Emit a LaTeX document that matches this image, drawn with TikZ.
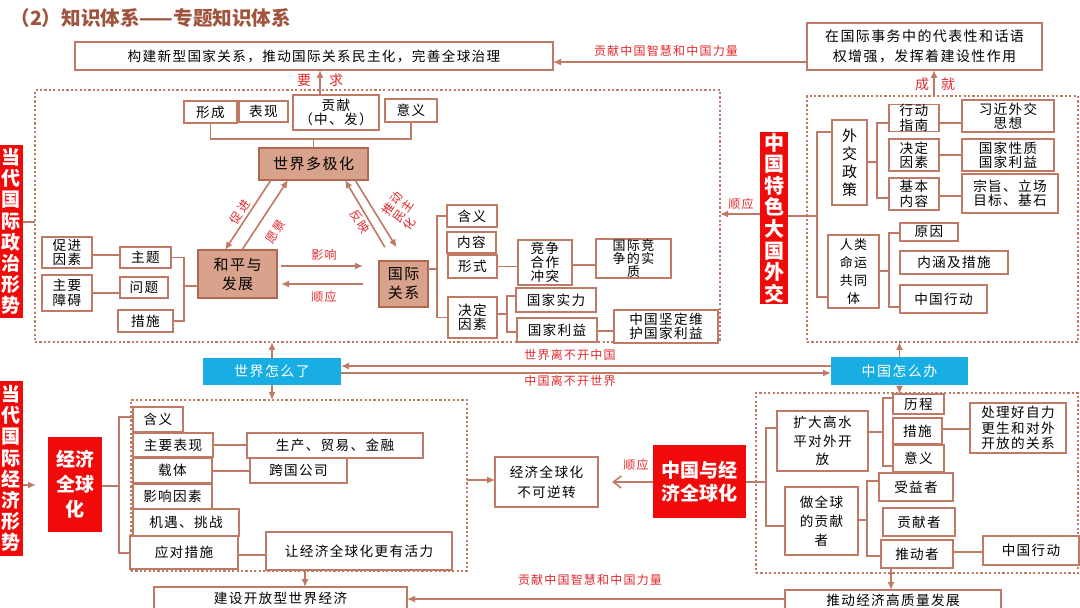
\documentclass[tikz,border=0pt]{standalone}
\usepackage{fontspec}
\usetikzlibrary{arrows.meta,fit}
\newfontfamily\cjk[LetterSpace=10]{Noto Sans CJK SC}
\newfontfamily\cjkb{Noto Sans CJK SC}
\definecolor{lnC}{RGB}{190,122,100}
\definecolor{hubF}{RGB}{216,162,140}
\definecolor{hubD}{RGB}{176,104,80}
\definecolor{redC}{RGB}{240,10,10}
\definecolor{cyC}{RGB}{24,174,228}
\definecolor{labC}{RGB}{226,40,44}
\definecolor{ttlC}{RGB}{160,84,62}
\tikzset{
  span/.style n args={4}{at={({(#1+#3)/2},{(#2+#4)/2})},
              minimum width={(#3-#1)*0.5pt},minimum height={(#4-#2)*0.5pt}},
  box/.style={rectangle,draw=lnC,line width=0.8pt,fill=white,inner sep=0pt,outer sep=0pt,
              align=center,font=\cjk\fontsize{6.8}{8.2}\selectfont},
  tight/.style={font=\cjk\fontsize{6.8}{7.2}\selectfont},
  hub/.style={box,fill=hubF,draw=hubD,font=\cjk\fontsize{7.5}{9.5}\selectfont},
  redbx/.style={box,draw=none,fill=redC,text=white,font=\cjkb\bfseries\fontsize{9.5}{10.6}\selectfont},
  cybx/.style={box,draw=none,fill=cyC,text=white,font=\cjk\fontsize{7}{8}\selectfont},
  zone/.style={rectangle,draw=lnC,line width=1.1pt,dash pattern=on 1.1pt off 1.1pt,
               inner sep=0pt,outer sep=0pt},
  ln/.style={draw=lnC,line width=0.8pt},
  arr/.style={ln,-{Latex[length=4pt,width=3.6pt]}},
  lbl/.style={text=labC,font=\cjk\fontsize{6}{7}\selectfont,inner sep=0pt,align=left},
  lblb/.style={lbl,font=\cjk\fontsize{7}{8}\selectfont},
}
\begin{document}
\begin{tikzpicture}[x=0.5pt,y=-0.5pt]
\useasboundingbox (0,0) rectangle (1080,608);
\clip (0,0) rectangle (1080,608);
\node[anchor=west,text=ttlC,font=\cjkb\bfseries\fontsize{9.8}{11}\selectfont,inner sep=0pt] (ttl) at (10,18) {（2）知识体系——专题知识体系};
% zones
\node[zone,fit={(35,90)(720,342)}] (zz) {};
\node[zone,fit={(807,96)(1078,342)}] (zr) {};
\node[zone,fit={(131,400)(467,571)}] (zl) {};
\node[zone,fit={(756,393)(1078,573)}] (zrl) {};

% top row
\node[box,span={75}{42}{553}{70}] (goal) {构建新型国家关系，推动国际关系民主化，完善全球治理};
\node[box,span={807}{23}{1042}{70},font=\cjk\fontsize{7}{10}\selectfont] (ach) {在国际事务中的代表性和话语\\权增强，发挥着建设性作用};
\draw[arr] (ach.west |- 0,62) -- (goal.east |- 0,62);
\node[lbl] (lgx) at (666,51) {贡献中国智慧和中国力量};
\draw[arr] (zr.north -| 934,0) -- (ach.south -| 934,0);
\node[lblb] (lcj1) at (922,84) {成};
\node[lblb] (lcj2) at (948,84) {就};

% world politics
\node[redbx,span={0}{145}{23}{318}] (zzred) {当\\代\\国\\际\\政\\治\\形\\势};
\draw[ln] (zzred.east |- 0,222) -- (zz.west |- 0,222);
\node[box,span={184}{101}{237}{123}] (xc) {形成};
\node[box,span={239}{101}{288}{122}] (bx) {表现};
\node[box,span={293}{95}{379}{130},tight] (gx) {贡献\\（中、发）};
\node[box,span={385}{99}{437}{122}] (yy) {意义};
\draw[arr] (gx.north -| 320,0) -- (goal.south -| 320,0);
\node[lblb] (lyq1) at (304,80) {要};
\node[lblb] (lyq2) at (336,80) {求};
\draw[ln] (xc.south) -- (xc.south |- 0,139) -- (yy.south |- 0,139) -- (yy.south);
\node[hub,span={259}{148}{368}{180}] (dj) {世界多极化};
\draw[ln] (dj.north) -- (dj.north |- 0,139);
\node[hub,span={198}{250}{277}{298}] (hp) {和平与\\发展};
\node[hub,span={379}{261}{428}{307}] (gj) {国际\\关系};
\draw[arr] (dj.south -| 271,0) -- (hp.north -| 225,0);
\draw[arr] (hp.north -| 242,0) -- (dj.south -| 288,0);
\draw[arr,shorten <=8pt] (gj.north -| 393,0) -- (dj.south -| 345,0);
\draw[arr,shorten >=8pt] (dj.south -| 355,0) -- (gj.north -| 405,0);
\node[lbl,rotate=57] (lcj) at (240,212) {促进};
\node[lbl,rotate=57] (lyj) at (276,232) {愿景};
\node[lbl,rotate=-57] (lfy) at (360,222) {反映};
\node[lbl,rotate=54,font=\cjk\fontsize{6}{6.4}\selectfont] (ltd) at (403,211) {推动\\民主\\化};
\draw[arr,shorten <=2pt,shorten >=8pt] (hp.east |- 0,266) -- (gj.west |- 0,266);
\draw[arr,shorten <=8pt,shorten >=2pt] (gj.west |- 0,284) -- (hp.east |- 0,284);
\node[lbl] (lyx) at (324,255) {影响};
\node[lbl] (lsy) at (324,297) {顺应};

\node[box,span={42}{237}{92}{268},tight] (cj) {促进\\因素};
\node[box,span={42}{275}{92}{311},tight] (za) {主要\\障碍};
\node[box,span={120}{247}{171}{268}] (zt) {主题};
\node[box,span={120}{277}{168}{298}] (wt) {问题};
\node[box,span={118}{310}{173}{332}] (cs) {措施};
\draw[ln] (cj.east |- 0,255) -- (zt.west |- 0,255);
\draw[ln] (za.east |- 0,293) -- (wt.west |- 0,293);
\coordinate (bkL) at (184,286);
\draw[ln] (zt.east) -| (bkL) |- (cs.east);
\draw[ln] (bkL) -- (hp.west |- bkL);

\node[box,span={447}{205}{497}{227}] (hy) {含义};
\node[box,span={447}{232}{496}{253}] (nr) {内容};
\node[box,span={448}{255}{497}{278}] (xs) {形式};
\node[box,span={448}{297}{497}{338},tight] (jd) {决定\\因素};
\coordinate (bkG) at (437,269);
\draw[ln] (gj.east |- bkG) -- (bkG);
\draw[ln] (hy.west) -| (bkG) |- (jd.west);
\node[box,span={518}{240}{572}{285},font=\cjk\fontsize{6.8}{7}\selectfont] (jz) {竞争\\合作\\冲突};
\node[box,span={596}{240}{671}{277},font=\cjk\fontsize{6.5}{6.6}\selectfont] (sz) {国际竞\\争的实\\质};
\draw[ln] (xs.east) -- (xs.east -| jz.west);
\draw[ln] (jz.east |- 0,265) -- (sz.west |- 0,265);
\node[box,span={516}{288}{596}{312}] (gs) {国家实力};
\node[box,span={517}{318}{597}{342}] (gl) {国家利益};
\node[box,span={614}{310}{718}{343},tight] (wh) {中国坚定维\\护国家利益};
\coordinate (bkJ) at (507,314);
\draw[ln] (jd.east |- bkJ) -- (bkJ);
\draw[ln] (gs.west |- 0,296) -| (bkJ) |- (gl.west |- 0,332);
\draw[ln] (gl.east |- 0,331) -- (wh.west |- 0,331);

% major-country diplomacy
\node[redbx,span={760}{132}{788}{304},font=\cjkb\bfseries\fontsize{10}{10.8}\selectfont] (wj) {中\\国\\特\\色\\大\\国\\外\\交};
\draw[arr] (wj.west |- 0,214) -- (zz.east |- 0,214);
\node[lbl] (lsy2) at (741,204) {顺应};
\coordinate (bkW) at (817,216);
\draw[ln] (wj.east |- bkW) -- (bkW);
\node[box,span={832}{120}{867}{205},font=\cjk\fontsize{7.5}{9}\selectfont] (wz) {外\\交\\政\\策};
\node[box,span={828}{235}{879}{308},font=\cjk\fontsize{6.5}{9}\selectfont] (rl) {人类\\命运\\共同\\体};
\draw[ln] (wz.west |- 0,132) -| (bkW) |- (rl.west |- 0,297);
\node[box,span={889}{105}{939}{131},tight] (xd) {行动\\指南};
\node[box,span={889}{139}{939}{171},tight] (jy) {决定\\因素};
\node[box,span={889}{178}{939}{210},tight] (jb) {基本\\内容};
\coordinate (bkP) at (877,162);
\draw[ln] (wz.east |- bkP) -- (bkP);
\draw[ln] (xd.west |- 0,123) -| (bkP) |- (jb.west |- 0,198);
\node[box,span={962}{100}{1054}{132},tight] (xj) {习近外交\\思想};
\node[box,span={962}{139}{1054}{171},tight] (gz) {国家性质\\国家利益};
\node[box,span={962}{174}{1058}{213},tight] (zj) {宗旨、立场\\目标、基石};
\draw[ln] (xd.east |- 0,123) -- (xj.west |- 0,123);
\draw[ln] (jy.east |- 0,155) -- (gz.west |- 0,155);
\draw[ln] (jb.east |- 0,196) -- (zj.west |- 0,196);
\node[box,span={900}{223}{958}{241}] (ry) {原因};
\node[box,span={900}{251}{1008}{274}] (nh) {内涵及措施};
\node[box,span={900}{285}{987}{313}] (xa) {中国行动};
\coordinate (bkR) at (889,271);
\draw[ln] (rl.east |- bkR) -- (bkR);
\draw[ln] (ry.west |- 0,233) -| (bkR) |- (xa.west |- 0,307);

% middle band
\node[cybx,span={203}{358}{341}{385}] (sj) {世界怎么了};
\node[cybx,span={831}{357}{968}{385}] (zg) {中国怎么办};
\draw[arr] (zg.west |- 0,366) -- (sj.east |- 0,366);
\draw[arr] (sj.east |- 0,373) -- (zg.west |- 0,373);
\node[lbl] (lsj) at (570,355) {世界离不开中国};
\node[lbl] (lzg) at (570,381) {中国离不开世界};
\draw[arr] (sj.north) -- (sj.north |- zz.south);
\draw[arr] (sj.south) -- (sj.south |- zl.north);
\draw[arr] (zg.north) -- (zg.north |- zr.south);
\draw[arr] (zg.south) -- (zg.south |- 0,394);

% world economy
\node[redbx,span={0}{381}{23}{556}] (jred) {当\\代\\国\\际\\经\\济\\形\\势};
\node[redbx,span={48}{437}{102}{532},font=\cjkb\bfseries\fontsize{9.5}{12.5}\selectfont] (jq) {经济\\全球\\化};
\draw[arr,shorten >=6pt] (jred.east |- 0,485) -- (jq.west |- 0,485);
\node[box,span={133}{407}{183}{432}] (hy2) {含义};
\node[box,span={133}{433}{213}{457}] (bx2) {主要表现};
\node[box,span={133}{458}{212}{483}] (zt2) {载体};
\node[box,span={133}{484}{212}{509}] (ys) {影响因素};
\node[box,span={133}{509}{239}{536}] (jy2) {机遇、挑战};
\node[box,span={130}{536}{238}{569}] (yd) {应对措施};
\coordinate (bkE) at (119,486);
\draw[ln] (jq.east |- bkE) -- (bkE);
\draw[ln] (hy2.west |- 0,417) -| (bkE) |- (yd.west |- 0,553);
\node[box,span={247}{433}{423}{458}] (sm) {生产、贸易、金融};
\node[box,span={250}{458}{347}{483}] (kg) {跨国公司};
\node[box,span={266}{532}{452}{570}] (hl) {让经济全球化更有活力};
\draw[ln] (bx2.east |- 0,445) -- (sm.west |- 0,445);
\draw[ln] (zt2.east |- 0,471) -- (kg.west |- 0,471);
\draw[ln] (yd.east |- 0,555) -- (hl.west |- 0,555);
\node[box,span={154}{587}{407}{610}] (kf) {建设开放型世界经济};
\draw[arr] (hl.south -| 305,0) -- (kf.north -| 305,0);
\node[box,span={495}{457}{598}{507},font=\cjk\fontsize{6.8}{10}\selectfont] (bk) {经济全球化\\不可逆转};
\draw[arr] (zl.east |- 0,480) -- (bk.west |- 0,480);
\node[redbx,span={653}{445}{746}{518},font=\cjkb\bfseries\fontsize{9.5}{11.5}\selectfont] (zjq) {中国与经\\济全球化};
\draw[ln,-{Straight Barb[length=4pt,width=6pt]},shorten >=7pt] (zjq.west |- 0,482) -- (bk.east |- 0,482);
\node[lbl] (lsy3) at (636,465) {顺应};

% china's answer
\node[box,span={777}{411}{868}{471},font=\cjk\fontsize{6.8}{9.4}\selectfont] (kd) {扩大高水\\平对外开\\放};
\node[box,span={785}{487}{858}{555},font=\cjk\fontsize{6.8}{9.4}\selectfont] (zq) {做全球\\的贡献\\者};
\coordinate (bkC) at (766,482);
\draw[ln] (zjq.east |- bkC) -- (bkC);
\draw[ln] (kd.west |- 0,428) -| (bkC) |- (zq.west |- 0,526);
\node[box,span={893}{394}{944}{414}] (lc) {历程};
\node[box,span={893}{418}{942}{444}] (cs2) {措施};
\node[box,span={893}{445}{944}{472}] (yy2) {意义};
\coordinate (bkK) at (883,432);
\draw[ln] (kd.east |- bkK) -- (bkK);
\draw[ln] (lc.west |- 0,398) -| (bkK) |- (yy2.west |- 0,466);
\node[box,span={970}{403}{1066}{453},font=\cjk\fontsize{6.8}{7.6}\selectfont] (cl) {处理好自力\\更生和对外\\开放的关系};
\draw[ln] (cs2.east |- 0,429) -- (cl.west |- 0,429);
\node[box,span={879}{473}{953}{501}] (sy) {受益者};
\node[box,span={883}{508}{955}{536}] (gx2) {贡献者};
\node[box,span={881}{540}{953}{568}] (td) {推动者};
\coordinate (bkZ) at (867,520);
\draw[ln] (zq.east |- bkZ) -- (bkZ);
\draw[ln] (sy.west |- 0,481) -| (bkZ) |- (td.west |- 0,556);
\node[box,span={983}{536}{1079}{565}] (xa2) {中国行动};
\draw[ln] (td.east |- 0,552) -- (xa2.west |- 0,552);
\node[box,span={785}{590}{1001}{611}] (gz2) {推动经济高质量发展};
\draw[arr] (td.south -| 891,0) -- (gz2.north -| 891,0);
\draw[arr] (gz2.west |- 0,599) -- (kf.east |- 0,599);
\node[lbl] (lgx2) at (590,580) {贡献中国智慧和中国力量};
\end{tikzpicture}
\end{document}
